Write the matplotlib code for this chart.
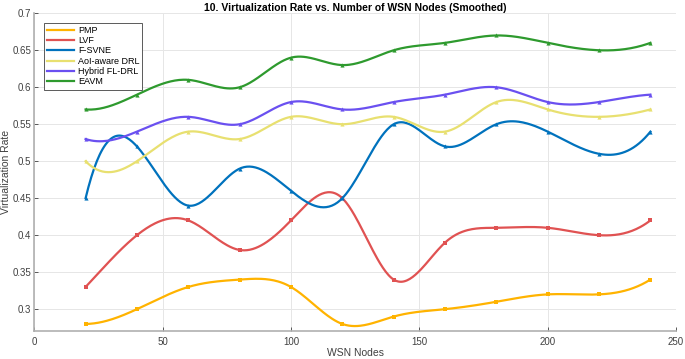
import numpy as np
import matplotlib
matplotlib.use("Agg")
import matplotlib.pyplot as plt

plt.rcParams["font.family"] = ["Liberation Sans", "DejaVu Sans"]

nodes = [20, 40, 60, 80, 100, 120, 140, 160, 180, 200, 220, 240]
pmp = [0.28, 0.30, 0.33, 0.34, 0.33, 0.28, 0.29, 0.30, 0.31, 0.32, 0.32, 0.34]
lvf = [0.33, 0.40, 0.42, 0.38, 0.42, 0.45, 0.34, 0.39, 0.41, 0.41, 0.40, 0.42]
fsvne = [0.45, 0.52, 0.44, 0.49, 0.46, 0.45, 0.55, 0.52, 0.55, 0.54, 0.51, 0.54]
aoi = [0.50, 0.50, 0.54, 0.53, 0.56, 0.55, 0.56, 0.54, 0.58, 0.57, 0.56, 0.57]
hybrid = [0.53, 0.54, 0.56, 0.55, 0.58, 0.57, 0.58, 0.59, 0.60, 0.58, 0.58, 0.59]
eavm = [0.57, 0.59, 0.61, 0.60, 0.64, 0.63, 0.65, 0.66, 0.67, 0.66, 0.65, 0.66]

names = ["PMP", "LVF", "F-SVNE", "AoI-aware DRL", "Hybrid FL-DRL", "EAVM"]
colors = ["#FFB300", "#E05252", "#0072BD", "#E8E070", "#6A50F0", "#2E9A2E"]
markers = ["s", "s", "^", "^", "^", "^"]


def spline(x, y, xs):
    # not-a-knot cubic spline, like matlab's spline()
    x = np.asarray(x, float)
    y = np.asarray(y, float)
    n = len(x)
    h = np.diff(x)
    A = np.zeros((n, n))
    b = np.zeros(n)
    A[0, 0], A[0, 1], A[0, 2] = h[1], -(h[0] + h[1]), h[0]
    A[-1, -3], A[-1, -2], A[-1, -1] = h[-1], -(h[-2] + h[-1]), h[-2]
    for i in range(1, n - 1):
        A[i, i - 1] = h[i - 1]
        A[i, i] = 2 * (h[i - 1] + h[i])
        A[i, i + 1] = h[i]
        b[i] = 6 * ((y[i + 1] - y[i]) / h[i] - (y[i] - y[i - 1]) / h[i - 1])
    M = np.linalg.solve(A, b)
    idx = np.clip(np.searchsorted(x, xs) - 1, 0, n - 2)
    x0, x1 = x[idx], x[idx + 1]
    hh = x1 - x0
    t0, t1 = x1 - xs, xs - x0
    return (M[idx] * t0**3 / (6 * hh) + M[idx + 1] * t1**3 / (6 * hh)
            + (y[idx] / hh - M[idx] * hh / 6) * t0
            + (y[idx + 1] / hh - M[idx + 1] * hh / 6) * t1)


fig = plt.figure(figsize=(6.85, 3.59), dpi=100)
ax = fig.add_axes([0.05, 0.077, 0.937, 0.886])

xs = np.linspace(nodes[0], nodes[-1], 400)
for vals, name, c, m in zip([pmp, lvf, fsvne, aoi, hybrid, eavm], names, colors, markers):
    ax.plot(xs, spline(nodes, vals, xs), color=c, lw=1.6, label=name)
    ax.plot(nodes, vals, m, color=c, ms=3, mew=0)

ax.set_xlim(0, 250)
ax.set_ylim(0.27, 0.7)
ax.set_xticks([0, 50, 100, 150, 200, 250])
ax.set_yticks([0.3, 0.35, 0.4, 0.45, 0.5, 0.55, 0.6, 0.65, 0.7])
ax.set_yticklabels(["0.3", "0.35", "0.4", "0.45", "0.5", "0.55", "0.6", "0.65", "0.7"])
ax.grid(True, color="#e6e6e6", lw=0.7)
ax.set_axisbelow(True)
for s in ["top", "right"]:
    ax.spines[s].set_visible(False)
for s in ["left", "bottom"]:
    ax.spines[s].set_color("#b0b0b0")
    ax.spines[s].set_linewidth(1.2)
ax.tick_params(labelsize=7, colors="#404040", length=3, width=0.6, direction="in")
ax.tick_params(axis="x", pad=4)
ax.tick_params(axis="y", pad=2)
ax.set_xlabel("WSN Nodes", fontsize=7.5, color="#404040", labelpad=1)
ax.set_ylabel("Virtualization Rate", fontsize=7.5, color="#404040", labelpad=1)
ax.set_title("10. Virtualization Rate vs. Number of WSN Nodes (Smoothed)",
             fontsize=7.5, fontweight="bold", pad=2)

leg = ax.legend(loc="upper left", bbox_to_anchor=(0.008, 0.985), fontsize=6.5,
                frameon=True, fancybox=False, edgecolor="#404040", framealpha=1,
                handlelength=3, labelspacing=0.15, borderpad=0.35, handletextpad=0.4)
leg.get_frame().set_linewidth(0.6)

fig.savefig("out.png", dpi=100)
